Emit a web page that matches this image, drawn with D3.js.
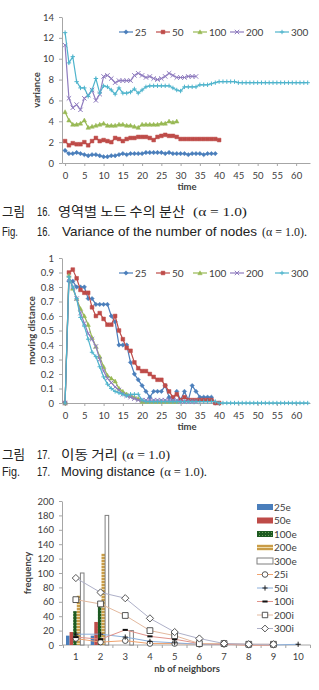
<!DOCTYPE html>
<html>
<head>
<meta charset="utf-8">
<script src="https://cdn.jsdelivr.net/npm/d3@7"></script>
<style>
  body { margin: 0; background: #fff; }
  svg text { font-family: Lato, "Liberation Sans", sans-serif; fill: #404040; }
  .cap { font-family: "Noto Sans CJK KR", sans-serif; fill: #222; }
  .capen { font-family: "Liberation Sans", Arial, sans-serif; fill: #222; }
  .capser { font-family: "Liberation Serif", serif; fill: #222; }
</style>
</head>
<body>
<svg id="fig" width="319" height="690"></svg>
<script>
// ---- figure 16 : variance of the number of nodes ----
const seriesNames = ['25', '50', '100', '200', '300'];
const timeTicks = [0, 5, 10, 15, 20, 25, 30, 35, 40, 45, 50, 55, 60];
const varTicks = [0, 2, 4, 6, 8, 10, 12, 14];

const var25 = [1.2, 0.9, 0.9, 1.0, 0.9, 0.8, 0.7, 0.8, 0.8, 0.7, 0.6, 0.6, 0.7, 0.7, 0.8, 0.9, 0.8, 0.9, 0.9, 0.9,
  0.9, 1.0, 1.0, 1.0, 1.0, 1.0, 0.9, 1.0, 0.9, 0.9, 0.9, 0.9, 0.8, 0.9, 0.9, 0.9, 0.8, 0.9, 0.9, 0.9];
const var50 = [2.1, 1.7, 1.9, 1.8, 1.8, 2.0, 1.7, 2.1, 2.4, 2.1, 2.2, 2.1, 2.0, 2.4, 2.3, 2.1, 2.3, 2.4, 2.4, 2.5,
  2.5, 2.5, 2.4, 2.2, 2.5, 2.6, 2.7, 2.6, 2.6, 2.5, 2.3, 2.3, 2.3, 2.3, 2.3, 2.3, 2.3, 2.3, 2.3, 2.3, 2.2];
const var100 = [4.9, 4.1, 3.7, 3.7, 3.8, 4.1, 3.4, 3.5, 3.6, 3.7, 3.8, 3.6, 3.6, 3.6, 3.7, 3.7, 3.6, 3.6, 3.5, 3.4,
  3.7, 3.7, 3.7, 3.7, 3.7, 3.8, 3.8, 4.0, 3.9, 4.0];
const var200 = [11.3, 6.2, 5.3, 5.6, 5.1, 6.2, 6.5, 7.0, 6.0, 6.6, 8.3, 8.4, 8.1, 7.7, 7.9, 7.9, 7.9, 7.9, 8.4, 8.6,
  8.4, 8.2, 8.3, 8.1, 8.0, 8.1, 8.3, 8.6, 8.4, 8.2, 8.2, 8.2, 8.3, 8.3, 8.3];
const var300 = [12.5, 9.6, 10.2, 7.8, 7.2, 7.2, 6.4, 7.0, 8.1, 6.7, 7.4, 7.3, 7.0, 6.6, 7.2, 6.7, 6.7, 6.8, 7.1, 6.7,
  7.0, 7.3, 7.4, 7.4, 7.4, 7.4, 7.4, 7.4, 7.2, 7.0, 6.9, 7.3, 7.3, 7.3, 7.3, 7.5, 7.5, 7.5, 7.6, 7.7,
  7.8, 7.8, 7.8, 7.8, 7.8, 7.7, 7.7, 7.7, 7.7, 7.7, 7.7, 7.7, 7.7, 7.7, 7.7, 7.7, 7.7, 7.7, 7.7, 7.7,
  7.7, 7.7, 7.7, 7.7];

// ---- figure 17 : moving distance ----
const distTicks = [0, 0.1, 0.2, 0.3, 0.4, 0.5, 0.6, 0.7, 0.8, 0.9, 1];
const dist25 = [0, 0.84, 0.84, 0.80, 0.80, 0.80, 0.72, 0.72, 0.68, 0.68, 0.68, 0.68, 0.60, 0.56, 0.40, 0.40, 0.40, 0.28, 0.20, 0.16,
  0.12, 0.08, 0.04, 0.08, 0.08, 0.08, 0.12, 0.04, 0.02, 0.08, 0.02, 0.08, 0.02, 0.12, 0.08, 0.04, 0.04, 0.04, 0.04, 0.00];
const dist50 = [0, 0.90, 0.92, 0.86, 0.78, 0.76, 0.76, 0.66, 0.60, 0.62, 0.58, 0.54, 0.54, 0.60, 0.50, 0.44, 0.38, 0.36, 0.28, 0.24,
  0.22, 0.22, 0.20, 0.18, 0.16, 0.16, 0.12, 0.08, 0.04, 0.06, 0.02, 0.04, 0.02, 0.02, 0.02, 0.02, 0.02, 0.02, 0.02, 0.00, 0.00];
const dist100 = [0, 0.88, 0.79, 0.72, 0.65, 0.60, 0.54, 0.45, 0.39, 0.32, 0.25, 0.19, 0.17, 0.15, 0.10, 0.08, 0.06, 0.05, 0.04, 0.03,
  0.01, 0.01, 0.01, 0.01, 0.01, 0.01, 0.01, 0.01, 0.01, 0.01];
const dist200 = [0, 0.86, 0.80, 0.72, 0.62, 0.55, 0.48, 0.44, 0.39, 0.30, 0.22, 0.17, 0.14, 0.11, 0.09, 0.06, 0.05, 0.04, 0.03, 0.02,
  0.02, 0.02, 0.02, 0.02, 0.02, 0.02, 0.02, 0.02, 0.02, 0.02, 0.01, 0.01, 0.01, 0.01, 0.01];
const dist300 = [0, 0.87, 0.80, 0.72, 0.59, 0.53, 0.44, 0.35, 0.32, 0.25, 0.18, 0.13, 0.10, 0.08, 0.07, 0.06, 0.05, 0.06, 0.06, 0.06,
  0.02, 0.01, 0.01, 0.01, 0.01, 0.01, 0.01, 0.01, 0.01, 0.01, 0.01, 0.01, 0.01, 0.01, 0.01, 0.01, 0.01, 0.01, 0.01, 0.01,
  0, 0, 0, 0, 0, 0, 0, 0, 0, 0, 0, 0, 0, 0, 0, 0, 0, 0, 0, 0, 0, 0, 0, 0];

// ---- neighbors histogram ----
const neighbors = [1, 2, 3, 4, 5, 6, 7, 8, 9, 10];
const freqTicks = [0, 20, 40, 60, 80, 100, 120, 140, 160, 180, 200];
const barNames = ['25e', '50e', '100e', '200e', '300e'];
const bar25e = [13, 13, 0, 0, 0, 0, 0, 0, 0, 0];
const bar50e = [18, 32, 0, 0, 0, 0, 0, 0, 0, 0];
const bar100e = [47, 55, 0, 0, 0, 0, 0, 0, 0, 0];
const bar200e = [69, 127, 0, 0, 0, 0, 0, 0, 0, 0];
const bar300e = [100, 180, 20, 0, 0, 0, 0, 0, 0, 0];
const lineNames = ['25i', '50i', '100i', '200i', '300i'];
const line25i = [9, 4, 6, 2, 2, 1, 1, 0, 0];
const line50i = [15, 15, 11, 5, 3, 1, 1, 1, 0, 1];
const line100i = [11, 8, 21, 12, 8, 2, 1, 0, 0];
const line200i = [63, 57, 41, 20, 13, 2, 2, 1, 1];
const line300i = [93, 73, 65, 37, 18, 9, 2, 1, 1];

const svg = d3.select('#fig');

const colors = ['#4a7ebb', '#be4b48', '#98b954', '#8f7cbf', '#4fb4cc'];
const markers = ['diamond', 'square', 'triangle', 'x', 'plus'];

function mark(kind, s) {
  switch (kind) {
    case 'diamond': return `M0,${-s}L${s},0L0,${s}L${-s},0Z`;
    case 'square': return `M${-s * 0.85},${-s * 0.85}H${s * 0.85}V${s * 0.85}H${-s * 0.85}Z`;
    case 'triangle': return `M0,${-s}L${s},${s * 0.8}L${-s},${s * 0.8}Z`;
    case 'x': return `M${-s},${-s}L${s},${s}M${-s},${s}L${s},${-s}`;
    case 'plus': return `M${-s},0H${s}M0,${-s}V${s}`;
    case 'dash': return `M${-s},0H${s}`;
    case 'circle': return `M${s},0A${s},${s} 0 1,1 ${-s},0A${s},${s} 0 1,1 ${s},0Z`;
  }
}
const stroked = k => k === 'x' || k === 'plus' || k === 'dash';

function styleAxis(sel) {
  sel.select('.domain').attr('stroke', '#a6a6a6');
  sel.selectAll('.tick line').attr('stroke', '#a6a6a6');
  sel.selectAll('.tick text').attr('font-size', 9.5).attr('fill', '#404040');
}

function timeChart(opt) {
  const x = d3.scaleLinear().domain([-0.8, 63.6]).range([62, 310]);
  const y = d3.scaleLinear().domain([0, opt.yMax]).range([opt.bottom, opt.top]);
  const g = svg.append('g');

  g.append('g')
    .attr('transform', 'translate(62,0)')
    .call(d3.axisLeft(y).tickValues(opt.ticks).tickFormat(opt.fmt).tickSize(3).tickSizeOuter(0).tickPadding(5))
    .call(styleAxis);
  g.append('g')
    .attr('transform', `translate(0,${opt.bottom})`)
    .call(d3.axisBottom(x).tickValues(timeTicks).tickSize(3).tickSizeOuter(0).tickPadding(6))
    .call(styleAxis);

  const line = d3.line().x((d, i) => x(i)).y(d => y(d));
  opt.series.forEach((vals, k) => {
    g.append('path')
      .attr('d', line(vals))
      .attr('fill', 'none')
      .attr('stroke', colors[k])
      .attr('stroke-width', 1.2);
    g.selectAll(null)
      .data(vals)
      .enter().append('path')
      .attr('transform', (d, i) => `translate(${x(i)},${y(d)})`)
      .attr('d', mark(markers[k], 2.2))
      .attr('fill', stroked(markers[k]) ? 'none' : colors[k])
      .attr('stroke', colors[k])
      .attr('stroke-width', stroked(markers[k]) ? 1 : 0.5);
  });

  // legend
  const lx = [119, 156, 193, 230, 275];
  seriesNames.forEach((name, k) => {
    const lg = g.append('g').attr('transform', `translate(${lx[k]},${opt.legendY})`);
    lg.append('line').attr('x1', 0).attr('x2', 14).attr('stroke', colors[k]).attr('stroke-width', 1.2);
    lg.append('path').attr('transform', 'translate(7,0)')
      .attr('d', mark(markers[k], 2.2))
      .attr('fill', stroked(markers[k]) ? 'none' : colors[k])
      .attr('stroke', colors[k]).attr('stroke-width', stroked(markers[k]) ? 1 : 0.5);
    lg.append('text').attr('x', 16).attr('y', 3.5).attr('font-size', 10).text(name);
  });

  g.append('text')
    .attr('x', 187).attr('y', opt.bottom + 27)
    .attr('text-anchor', 'middle').attr('font-size', 9.5).attr('font-weight', 'bold')
    .text('time');
  g.append('text')
    .attr('transform', `translate(${opt.titleX},${(opt.top + opt.bottom) / 2}) rotate(-90)`)
    .attr('text-anchor', 'middle').attr('font-size', 9.5).attr('font-weight', 'bold')
    .text(opt.yTitle);
}

timeChart({
  top: 17, bottom: 163, yMax: 14, ticks: varTicks, fmt: d3.format('d'),
  series: [var25, var50, var100, var200, var300], legendY: 32, yTitle: 'variance', titleX: 40
});
timeChart({
  top: 258, bottom: 403, yMax: 1, ticks: distTicks, fmt: d => (d === 0 || d === 1) ? String(d) : d3.format('.1f')(d),
  series: [dist25, dist50, dist100, dist200, dist300], legendY: 273, yTitle: 'moving distance', titleX: 35
});

// ---- captions ----
function caption(y, parts) {
  const t = svg.append('text').attr('y', y).attr('font-size', 13);
  parts.forEach(p => {
    t.append('tspan').attr('class', p[0]).attr('x', p[1]).attr('textLength', p[2])
      .attr('lengthAdjust', 'spacingAndGlyphs').text(p[3]);
  });
}
caption(216, [['cap', 2, 23, '그림'], ['capen', 37, 13, '16.'], ['cap', 58, 127, '영역별 노드 수의 분산'], ['capser', 193, 54, '(α = 1.0)']]);
caption(236, [['capen', 2, 16, 'Fig.'], ['capen', 37, 13, '16.'], ['capen', 62, 195, 'Variance of the number of nodes'], ['capser', 262, 45, '(α = 1.0).']]);
caption(459, [['cap', 2, 23, '그림'], ['capen', 37, 13, '17.'], ['cap', 61, 57, '이동 거리'], ['capser', 122, 48, '(α = 1.0)']]);
caption(476, [['capen', 2, 18, 'Fig.'], ['capen', 37, 13, '17.'], ['capen', 61, 94, 'Moving distance'], ['capser', 160, 47, '(α = 1.0).']]);

// ---- neighbors chart ----
const defs = svg.append('defs');
const pg = defs.append('pattern').attr('id', 'pat100').attr('width', 3).attr('height', 3).attr('patternUnits', 'userSpaceOnUse');
pg.append('rect').attr('width', 3).attr('height', 3).attr('fill', '#1d5a22');
pg.append('rect').attr('x', 1).attr('y', 1).attr('width', 1).attr('height', 1).attr('fill', '#6fa35c');
const pt = defs.append('pattern').attr('id', 'pat200').attr('width', 3).attr('height', 3).attr('patternUnits', 'userSpaceOnUse');
pt.append('rect').attr('width', 3).attr('height', 3).attr('fill', '#c99c47');
pt.append('rect').attr('y', 1).attr('width', 3).attr('height', 1).attr('fill', '#eedcae');

const barFill = ['#4a7ebb', '#be4b48', 'url(#pat100)', 'url(#pat200)', '#ffffff'];
const barStroke = ['none', 'none', 'none', 'none', '#7f7f7f'];
const lineColor = ['#f0a36e', '#8aaedb', '#e0928a', '#e3b99e', '#aeb0c8'];
const lineMark = ['circle', 'plus', 'dash', 'square', 'diamond'];

const x3 = d3.scaleBand().domain(neighbors).range([63.5, 310.5]);
const xs = d3.scaleBand().domain(barNames).range([2.5, 20.5]);
const y3 = d3.scaleLinear().domain([0, 200]).range([645, 501]);
const g3 = svg.append('g');

g3.append('g')
  .attr('transform', 'translate(62,0)')
  .call(d3.axisLeft(y3).tickValues(freqTicks).tickSize(3).tickSizeOuter(0).tickPadding(5))
  .call(styleAxis);
g3.append('g')
  .attr('transform', 'translate(0,645)')
  .call(d3.axisBottom(x3).tickSize(0).tickPadding(8.5))
  .call(styleAxis)
  .call(a => a.select('.domain').attr('d', 'M62,0H310.5'));
// ticks between categories
g3.selectAll(null)
  .data(neighbors.concat([null]))
  .enter().append('line')
  .attr('x1', d => d === null ? x3.range()[1] : x3(d))
  .attr('x2', d => d === null ? x3.range()[1] : x3(d))
  .attr('y1', 645).attr('y2', 648)
  .attr('stroke', '#a6a6a6');

const bars = [bar25e, bar50e, bar100e, bar200e, bar300e];
bars.forEach((vals, k) => {
  g3.selectAll(null)
    .data(vals.map((v, i) => ({ c: neighbors[i], v })).filter(d => d.v > 0))
    .enter().append('rect')
    .attr('x', d => x3(d.c) + xs(barNames[k]))
    .attr('width', xs.bandwidth())
    .attr('y', d => y3(d.v))
    .attr('height', d => 645 - y3(d.v))
    .attr('fill', barFill[k])
    .attr('stroke', barStroke[k])
    .attr('stroke-width', 1);
});

const lines = [line25i, line50i, line100i, line200i, line300i];
const cx = c => x3(c) + x3.bandwidth() / 2;
const line3 = d3.line().x((d, i) => cx(neighbors[i])).y(d => y3(d));
lines.forEach((vals, k) => {
  g3.append('path').attr('d', line3(vals))
    .attr('fill', 'none').attr('stroke', lineColor[k]).attr('stroke-width', 1);
});
lines.forEach((vals, k) => {
  const m = lineMark[k];
  g3.selectAll(null)
    .data(vals)
    .enter().append('path')
    .attr('transform', (d, i) => `translate(${cx(neighbors[i])},${y3(d)})`)
    .attr('d', mark(m, m === 'diamond' ? 3.6 : m === 'square' ? 3.4 : m === 'circle' ? 2.8 : 2.6))
    .attr('fill', stroked(m) ? 'none' : '#fff')
    .attr('stroke', stroked(m) ? '#111' : '#444')
    .attr('stroke-width', m === 'dash' ? 2 : 0.9);
});

// legend
const rowY = [507, 520.5, 534, 547.5, 561, 574.5, 588, 601.5, 615, 628.5];
barNames.forEach((name, k) => {
  g3.append('rect').attr('x', 257).attr('y', rowY[k] - 3).attr('width', 16).attr('height', 6)
    .attr('fill', barFill[k]).attr('stroke', barStroke[k]);
  g3.append('text').attr('x', 274).attr('y', rowY[k] + 3.5).attr('font-size', 10).text(name);
});
lineNames.forEach((name, k) => {
  const yy = rowY[k + 5];
  const m = lineMark[k];
  g3.append('line').attr('x1', 257).attr('x2', 273).attr('y1', yy).attr('y2', yy)
    .attr('stroke', lineColor[k]).attr('stroke-width', 1);
  g3.append('path').attr('transform', `translate(265,${yy})`)
    .attr('d', mark(m, m === 'diamond' ? 3.4 : m === 'square' ? 3.2 : m === 'circle' ? 2.8 : 2.6))
    .attr('fill', stroked(m) ? 'none' : '#fff')
    .attr('stroke', stroked(m) ? '#111' : '#444')
    .attr('stroke-width', m === 'dash' ? 2 : 0.9);
  g3.append('text').attr('x', 274).attr('y', yy + 3.5).attr('font-size', 10).text(name);
});

g3.append('text')
  .attr('x', 187).attr('y', 672)
  .attr('text-anchor', 'middle').attr('font-size', 9.5).attr('font-weight', 'bold')
  .text('nb of neighbors');
g3.append('text')
  .attr('transform', 'translate(31,573) rotate(-90)')
  .attr('text-anchor', 'middle').attr('font-size', 9.5).attr('font-weight', 'bold')
  .text('frequency');
</script>
</body>
</html>
